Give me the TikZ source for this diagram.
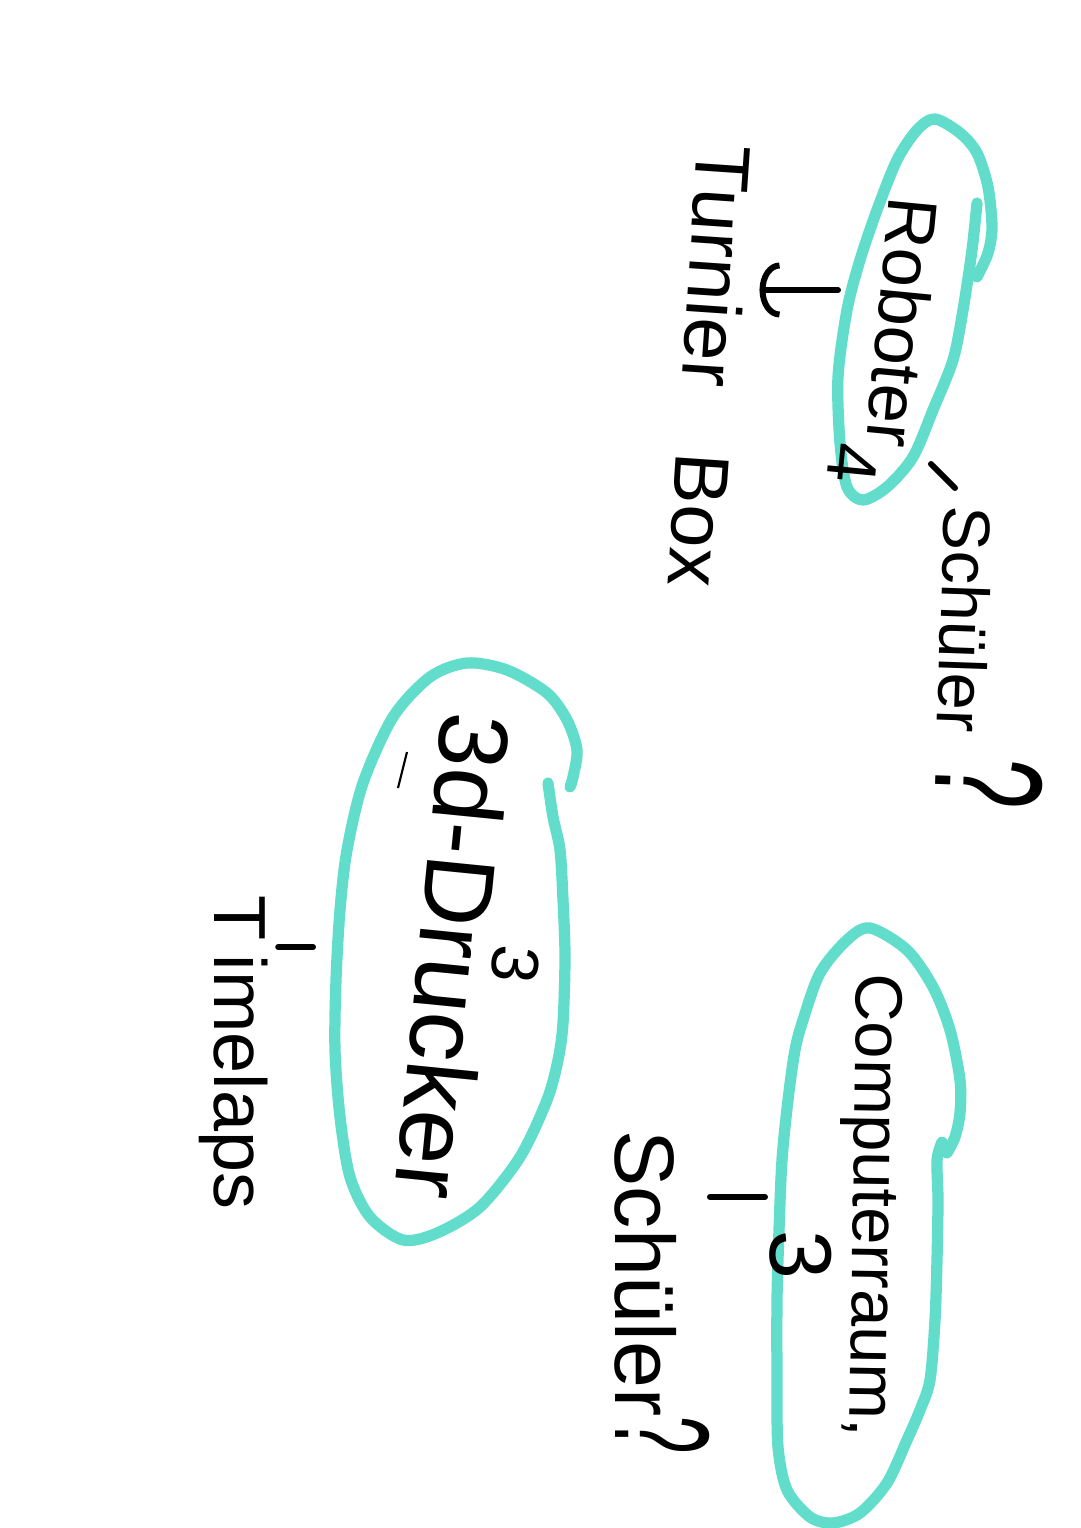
\documentclass[tikz,border=0pt]{standalone}
\usepackage{graphicx}
\usepackage{fontspec}
\setmainfont{Liberation Sans}
\usetikzlibrary{arrows.meta}
\definecolor{tuerkis}{RGB}{98,221,204}
\newcommand\grad[1]{\fontsize{#1}{#1}\selectfont}

\begin{document}
\begin{tikzpicture}[
  x=0.1mm, y=-0.1mm,
  kringel/.style={draw=tuerkis, line width=3.2pt, line cap=round, line join=round},
  schrift/.style={inner sep=0pt, anchor=base west},
  strich/.style={line width=1.7pt, line cap=round},
  pfeil/.style={strich, -{Arc Barb[length=2mm, width=5.5mm]}}
]
  \fill[white] (0,0) rectangle (1080,1528);
  \useasboundingbox (0,0) rectangle (1080,1528);

  % Roboter
  \draw[kringel] plot[smooth] coordinates {(977,203) (972,250) (963,310) (953,360) (933,410) (913,457) (887,487) (863,500) (847,487) (840,443) (838,377) (847,310) (860,260) (877,210) (897,160) (917,130) (935,119) (960,133) (977,153) (988,187) (992,227) (988,253) (977,277)};
  \node[schrift, rotate=-95.5, font=\grad{20}] (roboter) at (890,195) {Roboter\raisebox{-10pt}{4}};
  \node[schrift, rotate=-92, font=\grad{19}] (schueler-oben) at (945,505) {Schüler\hspace{7pt}\scalebox{1.35}[2.3]{?}};
  \node[schrift, rotate=-93.9, font=\grad{22}] (turnier) at (698,143) {Turnier\hspace{19pt}Box};
  \coordinate (robo-links) at (838,290);
  \coordinate (robo-ecke) at (931,464);
  \coordinate (schueler-anfang) at (955,488);
  \draw[pfeil, shorten >=2mm] (robo-links) -- (turnier.north |- robo-links);
  \draw[strich] (robo-ecke) -- (schueler-anfang);

  % 3d-Drucker
  \draw[kringel] plot[smooth] coordinates {(548,783) (553,817) (560,850) (563,900) (565,957) (563,1023) (558,1060) (547,1100) (520,1157) (480,1207) (437,1233) (403,1240) (370,1217) (350,1177) (340,1117) (335,1050) (336,980) (340,910) (347,850) (363,783) (393,717) (430,677) (467,663) (507,670) (547,693) (567,720) (577,750) (573,777) (570,787)};
  \node[schrift, rotate=-95.7, font=\grad{28}] (drucker) at (443,710) {3d-Drucker};
  \node[schrift, rotate=-96, font=\grad{19}] (drucker-zahl) at (495,943) {3};
  \node[schrift, rotate=-90, font=\grad{21}] (timelaps) at (214,895) {T\hspace{4pt}imelaps};
  \coordinate (drucker-links) at (313,947);
  \draw[strich, shorten >=1mm] (drucker-links) -- (timelaps.north |- drucker-links);
  \draw[line width=0.6pt] (398,788) -- (407,752);

  % Computerraum
  \draw[kringel] plot[smooth] coordinates {(942,1142) (937,1160) (938,1200) (937,1260) (935,1320) (930,1380) (920,1410) (907,1440) (887,1483) (860,1513) (833,1523) (810,1517) (787,1490) (778,1447) (777,1380) (777,1300) (779,1230) (782,1160) (788,1100) (795,1050) (803,1020) (820,973) (847,940) (870,928) (907,950) (933,987) (950,1030) (960,1080) (960,1113) (955,1137) (947,1153)};
  \node[schrift, rotate=-90.9, font=\grad{19}] (raum) at (857,973) {Computerraum,};
  \node[schrift, rotate=-90, font=\grad{25}] (raum-zahl) at (770,1230) {3};
  \node[schrift, rotate=-90, font=\grad{24}] (schueler-unten) at (615,1130) {Schüler\scalebox{0.8}[1.6]{?}};
  \coordinate (raum-links) at (765,1197);
  \draw[strich] (raum-links) -- (schueler-unten.north |- raum-links);
\end{tikzpicture}
\end{document}
